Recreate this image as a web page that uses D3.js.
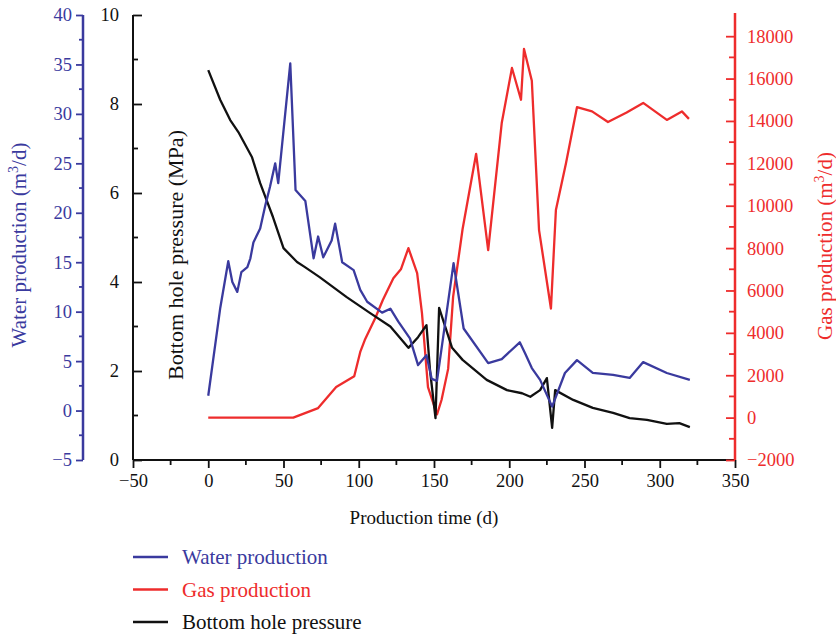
<!DOCTYPE html>
<meta charset="utf-8">
<script src="https://d3js.org/d3.v7.min.js"></script>
<style>
  body { margin: 0; background: #fff; }
  svg text { font-family: "Liberation Serif", "DejaVu Serif", serif; }
</style>
<div id="my_dataviz"></div>
<script>

// data
var waterT = [0, 8, 13.3, 16, 19.3, 22, 26, 28, 30, 34.5, 38, 41, 44.5, 46.5, 54.5, 58, 64.5, 70, 73, 76.4, 82, 84.3, 89, 96.6, 101, 105.6, 115.5, 121, 126.3, 134, 139.4, 145, 148.5, 152, 163, 169.7, 186, 195, 207, 210.5, 215, 220.5, 228.5, 237, 245, 255.5, 269, 280, 289, 304.7, 320]
var waterV = [1.5, 10.4, 15.1, 13.0, 12.0, 14.0, 14.5, 15.4, 17.0, 18.4, 20.8, 22.6, 25.0, 23.0, 35.1, 22.3, 21.2, 15.4, 17.6, 15.5, 17.2, 18.9, 15.0, 14.2, 12.2, 11.0, 9.9, 10.3, 9.0, 7.3, 4.6, 5.6, 3.2, 3.0, 14.9, 8.3, 4.8, 5.2, 6.9, 5.8, 4.3, 3.1, 0.4, 3.8, 5.1, 3.8, 3.6, 3.3, 4.9, 3.8, 3.1]

var gasT = [0, 56.5, 73, 85, 97, 101, 104, 111, 116, 123, 128, 133, 138.8, 142, 146, 152, 155, 159.4, 162.7, 169, 178, 186, 195, 201.8, 207.8, 209.8, 215, 219.8, 227.7, 231, 237.7, 245, 255, 265.6, 278, 289, 304.7, 314.7, 319.4]
var gasV = [0, 0, 450, 1440, 1950, 3100, 3660, 4700, 5550, 6580, 7000, 8000, 6820, 4930, 1440, 150, 830, 2300, 5700, 8900, 12450, 7900, 13900, 16500, 15000, 17400, 15900, 8850, 5150, 9800, 12000, 14650, 14450, 13950, 14400, 14850, 14050, 14450, 14100]

var presT = [0, 8, 14.6, 20, 29, 34.5, 43, 50, 59, 64, 74, 92, 107.6, 121, 133, 139.4, 145, 147.4, 151, 153.4, 156, 162, 169, 185, 198.5, 208.5, 214, 220.5, 225, 228.5, 230.5, 242.5, 255.5, 269, 280, 291.5, 304.7, 313, 320]
var presV = [8.76, 8.09, 7.64, 7.37, 6.81, 6.22, 5.46, 4.76, 4.45, 4.34, 4.11, 3.66, 3.3, 3.0, 2.52, 2.76, 3.03, 2.0, 0.94, 3.42, 3.15, 2.52, 2.25, 1.8, 1.57, 1.5, 1.42, 1.57, 1.84, 0.72, 1.57, 1.35, 1.17, 1.06, 0.94, 0.9, 0.81, 0.83, 0.74]

var xTicks = [-50, 0, 50, 100, 150, 200, 250, 300, 350]
var presTicks = [0, 2, 4, 6, 8, 10]
var waterTicks = [-5, 0, 5, 10, 15, 20, 25, 30, 35, 40]
var gasTicks = [-2000, 0, 2000, 4000, 6000, 8000, 10000, 12000, 14000, 16000, 18000]

var legendNames = ["Water production", "Gas production", "Bottom hole pressure"]

var blue = "#3a3a9e", red = "#ee2c2c", black = "#111111"

var W = 836, H = 635
var mLeft = 133, mRight = 735, mTop = 15, mBottom = 460

var svg = d3.select("#my_dataviz")
  .append("svg")
    .attr("width", W)
    .attr("height", H)

// scales
var x = d3.scaleLinear().domain([-50, 350]).range([mLeft, mRight])
var yP = d3.scaleLinear().domain([0, 10]).range([mBottom, mTop])
var yW = d3.scaleLinear().domain([-5, 40]).range([mBottom, mTop])
var yG = d3.scaleLinear().domain([-2000, 19000]).range([mBottom, mTop])

function styleAxis(g, color) {
  g.select(".domain").attr("stroke", color).attr("stroke-width", 2)
  g.selectAll(".tick line").attr("stroke", color).attr("stroke-width", 1.8)
  g.selectAll(".tick text").attr("fill", color).style("font-size", "18.5px")
}

// minor ticks helper
function minor(g, scale, vals, orient, len, color) {
  vals.forEach(function(v) {
    var p = scale(v)
    var l = g.append("line").attr("stroke", color).attr("stroke-width", 1.8)
    if (orient == "bottom") l.attr("x1", p).attr("x2", p).attr("y1", 0).attr("y2", len)
    else l.attr("y1", p).attr("y2", p).attr("x1", 0).attr("x2", len)
  })
}

// x axis
var gx = svg.append("g")
  .attr("transform", "translate(0," + mBottom + ")")
  .call(d3.axisBottom(x).tickValues(xTicks).tickSize(8).tickPadding(6).tickFormat(d3.format("")))
styleAxis(gx, black)
gx.select(".domain").attr("d", "M" + mLeft + ",0H" + mRight)
minor(gx, x, [-25, 25, 75, 125, 175, 225, 275, 325], "bottom", 5, black)

// pressure axis (ticks inside)
var gp = svg.append("g")
  .attr("transform", "translate(" + mLeft + ",0)")
  .call(d3.axisLeft(yP).tickValues(presTicks).tickSize(-9).tickPadding(14))
styleAxis(gp, black)
gp.select(".domain").attr("d", "M0," + mTop + "V" + mBottom)
minor(gp, yP, [1, 3, 5, 7, 9], "left", 5, black)

// water axis (outer left)
var gw = svg.append("g")
  .attr("transform", "translate(83,0)")
  .call(d3.axisLeft(yW).tickValues(waterTicks).tickSize(7).tickPadding(4).tickFormat(d3.format("")))
styleAxis(gw, blue)
gw.select(".domain").attr("d", "M0," + mTop + "V" + mBottom).attr("stroke-width", 2.5)
minor(gw, yW, d3.range(-2.5, 40, 5), "left", -4, blue)

// gas axis (right)
var gg = svg.append("g")
  .attr("transform", "translate(" + mRight + ",0)")
  .call(d3.axisRight(yG).tickValues(gasTicks).tickSize(-9).tickPadding(12).tickFormat(d3.format("")))
styleAxis(gg, red)
gg.select(".domain").attr("d", "M0," + (mTop - 2) + "V" + mBottom).attr("stroke-width", 2.5)
minor(gg, yG, d3.range(-1000, 19000, 2000), "left", -6, red)

// minus signs as real minus
svg.selectAll(".tick text").text(function() { return this.textContent.replace("-", "\u2212") })

// lines
function drawLine(ts, vs, yScale, color) {
  var pts = ts.map(function(t, i) { return [t, vs[i]] })
  svg.append("path")
    .datum(pts)
    .attr("fill", "none")
    .attr("stroke", color)
    .attr("stroke-width", 2.3)
    .attr("stroke-linejoin", "round")
    .attr("d", d3.line().x(function(d) { return x(d[0]) }).y(function(d) { return yScale(d[1]) }))
}
drawLine(gasT, gasV, yG, red)
drawLine(presT, presV, yP, black)
drawLine(waterT, waterV, yW, blue)

// axis titles
function supLabel(tx, ty, color, pre) {
  var t = svg.append("text")
    .attr("transform", "translate(" + tx + "," + ty + ") rotate(-90)")
    .attr("text-anchor", "middle")
    .attr("fill", color)
    .style("font-size", "21px")
  t.append("tspan").text(pre + " (m")
  t.append("tspan").attr("dy", -8).style("font-size", "14px").text("3")
  t.append("tspan").attr("dy", 8).text("/d)")
}
supLabel(26, 245, blue, "Water production")
supLabel(832, 246, red, "Gas production")

svg.append("text")
  .attr("transform", "translate(183,255) rotate(-90)")
  .attr("text-anchor", "middle")
  .attr("fill", black)
  .style("font-size", "22px")
  .text("Bottom hole pressure (MPa)")

svg.append("text")
  .attr("x", 424)
  .attr("y", 524)
  .attr("text-anchor", "middle")
  .attr("fill", black)
  .style("font-size", "19px")
  .text("Production time (d)")

// legend
var legColors = [blue, red, black]
var leg = svg.selectAll(".leg")
  .data(legendNames)
  .enter()
  .append("g")
    .attr("transform", function(d, i) { return "translate(133," + (557 + i * 32.5) + ")" })
leg.append("line")
  .attr("x1", 0).attr("x2", 35)
  .attr("stroke", function(d, i) { return legColors[i] })
  .attr("stroke-width", 2.6)
leg.append("text")
  .attr("x", 49)
  .attr("y", 7)
  .attr("fill", function(d, i) { return legColors[i] })
  .style("font-size", "21px")
  .text(function(d) { return d })

</script>
